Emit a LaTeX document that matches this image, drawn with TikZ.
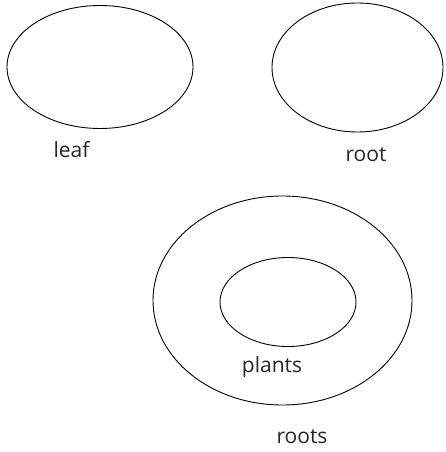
\documentclass[tikz,border=0pt]{standalone}
\usepackage{fontspec}
\setmainfont{Open Sans}
\usetikzlibrary{shapes.geometric}
\tikzset{
  ring/.style={draw=black, line width=0.9pt, ellipse, inner sep=0pt},
  lbl/.style={anchor=base, inner sep=0pt, font=\fontsize{21pt}{24pt}\selectfont, text=black!85}
}
\begin{document}
\begin{tikzpicture}[x=1pt,y=-1pt]
\useasboundingbox (0,0) rectangle (445,452);
\node[ring, minimum width=186pt, minimum height=123pt] (leafE) at (100,67) {};
\node[ring, minimum width=171pt, minimum height=129pt] (rootE) at (357.5,67.5) {};
\node[ring, minimum width=259pt, minimum height=209pt] (outerE) at (282.5,300.5) {};
\node[ring, minimum width=136pt, minimum height=89pt] (innerE) at (288,302) {};
\node[lbl] (leaf) at (71.5,157) {leaf};
\node[lbl] (root) at (366,161) {root};
\node[lbl] (plants) at (272,372) {plants};
\node[lbl] (roots) at (302,443) {roots};
\end{tikzpicture}
\end{document}
